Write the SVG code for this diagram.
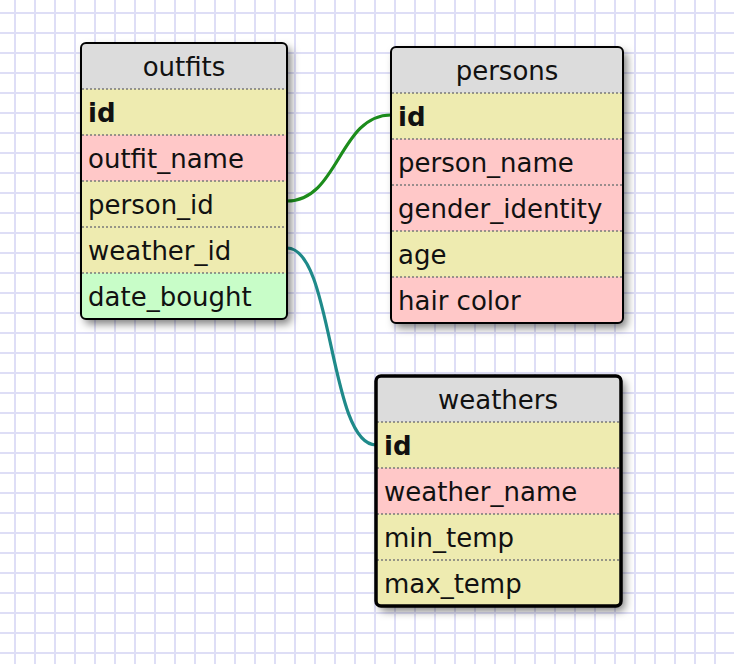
<svg xmlns="http://www.w3.org/2000/svg" width="734" height="664" viewBox="0 0 734 664">
<defs>
<pattern id="grid" x="0" y="0" width="20" height="20" patternUnits="userSpaceOnUse">
<rect x="14" y="0" width="2" height="20" fill="#dedef6"/>
<rect x="0" y="12" width="20" height="2" fill="#dedef6"/>
</pattern>
<filter id="sh" x="-20%" y="-20%" width="140%" height="140%">
<feDropShadow dx="4" dy="5" stdDeviation="4.5" flood-color="#000" flood-opacity="0.5"/>
</filter>
<clipPath id="c1"><rect x="81" y="43" width="206" height="276" rx="5"/></clipPath>
<clipPath id="c2"><rect x="391" y="47" width="232" height="276" rx="5"/></clipPath>
<clipPath id="c3"><rect x="376" y="376" width="245" height="230" rx="5"/></clipPath>
</defs>
<style>
text{font-family:"DejaVu Sans","Liberation Sans",sans-serif;font-size:26px;fill:#111}
.h{text-anchor:middle}
.b{font-weight:bold}
.hd{fill:#dcdcdc}
.y{fill:#eeebb0}
.p{fill:#ffc8c8}
.g{fill:#c8fdc8}
.sep{stroke:#7a7a7a;stroke-width:1.5;stroke-dasharray:2 2}
.bd{fill:none;stroke:#000;stroke-width:2}
.shadow{fill:#fff;filter:url(#sh)}
.conn{fill:none;stroke-width:3.2}
</style>
<rect width="734" height="664" fill="#fff"/>
<rect width="734" height="664" fill="url(#grid)"/>

<g id="connectors">
<path class="conn" stroke="#1c8c1c" d="M287,201 C339,201 339,115 391,115"/>
<path class="conn" stroke="#1f8a8a" d="M287,248 C333,248 329,445 376,445"/>
</g>

<g id="outfits">
<rect class="shadow" x="81" y="43" width="206" height="276" rx="5"/>
<g clip-path="url(#c1)">
<rect class="hd" x="81" y="43" width="206" height="46"/>
<rect class="y" x="81" y="89" width="206" height="46"/>
<rect class="p" x="81" y="135" width="206" height="46"/>
<rect class="y" x="81" y="181" width="206" height="46"/>
<rect class="y" x="81" y="227" width="206" height="46"/>
<rect class="g" x="81" y="273" width="206" height="46"/>
</g>
<line class="sep" x1="82" y1="89" x2="286" y2="89"/>
<line class="sep" x1="82" y1="135" x2="286" y2="135"/>
<line class="sep" x1="82" y1="181" x2="286" y2="181"/>
<line class="sep" x1="82" y1="227" x2="286" y2="227"/>
<line class="sep" x1="82" y1="273" x2="286" y2="273"/>
<rect class="bd" x="81" y="43" width="206" height="276" rx="5"/>
<text class="h" x="184" y="76">outfits</text>
<text class="b" x="88" y="122">id</text>
<text x="88" y="168">outfit_name</text>
<text x="88" y="214">person_id</text>
<text x="88" y="260">weather_id</text>
<text x="88" y="306">date_bought</text>
</g>

<g id="persons">
<rect class="shadow" x="391" y="47" width="232" height="276" rx="5"/>
<g clip-path="url(#c2)">
<rect class="hd" x="391" y="47" width="232" height="46"/>
<rect class="y" x="391" y="93" width="232" height="46"/>
<rect class="p" x="391" y="139" width="232" height="46"/>
<rect class="p" x="391" y="185" width="232" height="46"/>
<rect class="y" x="391" y="231" width="232" height="46"/>
<rect class="p" x="391" y="277" width="232" height="46"/>
</g>
<line class="sep" x1="392" y1="93" x2="622" y2="93"/>
<line class="sep" x1="392" y1="139" x2="622" y2="139"/>
<line class="sep" x1="392" y1="185" x2="622" y2="185"/>
<line class="sep" x1="392" y1="231" x2="622" y2="231"/>
<line class="sep" x1="392" y1="277" x2="622" y2="277"/>
<rect class="bd" x="391" y="47" width="232" height="276" rx="5"/>
<text class="h" x="507" y="80">persons</text>
<text class="b" x="398" y="126">id</text>
<text x="398" y="172">person_name</text>
<text x="398" y="218">gender_identity</text>
<text x="398" y="264">age</text>
<text x="398" y="310">hair color</text>
</g>

<g id="weathers">
<rect class="shadow" x="376" y="376" width="245" height="230" rx="5"/>
<g clip-path="url(#c3)">
<rect class="hd" x="376" y="376" width="245" height="46"/>
<rect class="y" x="376" y="422" width="245" height="46"/>
<rect class="p" x="376" y="468" width="245" height="46"/>
<rect class="y" x="376" y="514" width="245" height="46"/>
<rect class="y" x="376" y="560" width="245" height="46"/>
</g>
<line class="sep" x1="377" y1="422" x2="620" y2="422"/>
<line class="sep" x1="377" y1="468" x2="620" y2="468"/>
<line class="sep" x1="377" y1="514" x2="620" y2="514"/>
<line class="sep" x1="377" y1="560" x2="620" y2="560"/>
<rect class="bd" style="stroke-width:3.5" x="376" y="376" width="245" height="230" rx="5"/>
<text class="h" x="498" y="409">weathers</text>
<text class="b" x="384" y="455">id</text>
<text x="384" y="501">weather_name</text>
<text x="384" y="547">min_temp</text>
<text x="384" y="593">max_temp</text>
</g>
</svg>
